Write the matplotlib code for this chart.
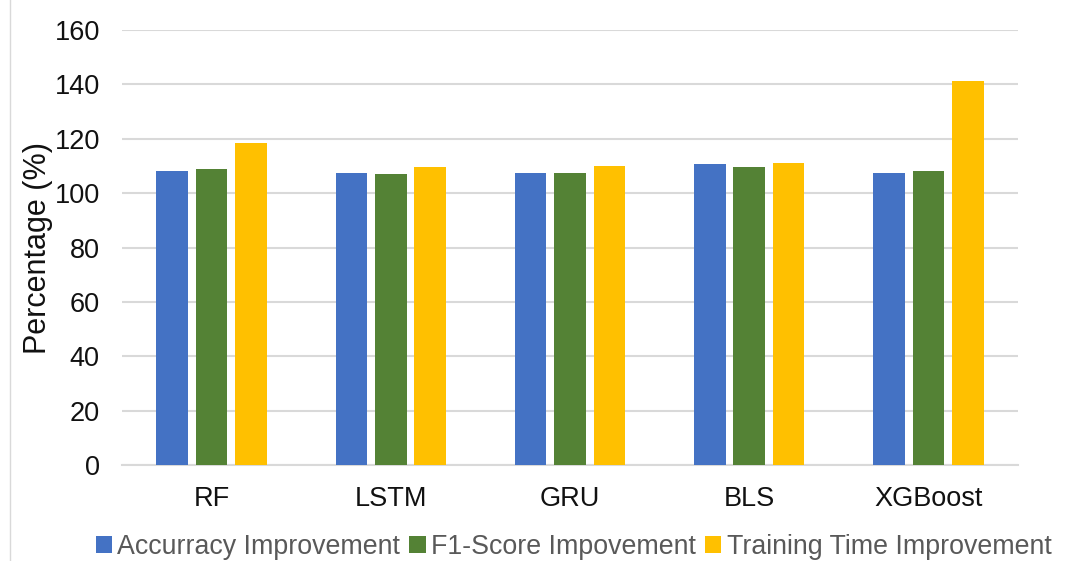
import matplotlib
matplotlib.use("Agg")
import matplotlib.pyplot as plt
from matplotlib.lines import Line2D
import numpy as np

plt.rcParams['font.family'] = ['Liberation Sans', 'DejaVu Sans']

models = ["RF", "LSTM", "GRU", "BLS", "XGBoost"]
accuracy_improvement = [108.0, 107.5, 107.5, 110.7, 107.5]
f1_improvement = [109.0, 107.0, 107.5, 109.5, 108.0]
training_time_improvement = [118.5, 109.5, 110.0, 111.1, 141.2]
series_labels = ["Accurracy Improvement", "F1-Score Impovement", "Training Time Improvement"]
y_ticks = [0, 20, 40, 60, 80, 100, 120, 140, 160]

colors = ["#4472C4", "#548235", "#FFC000"]

fig = plt.figure(figsize=(10.72, 5.61), dpi=100)
ax = fig.add_axes([122 / 1072, 96 / 561, 896 / 1072, 435 / 561])

x = np.arange(len(models))
width = 0.176
step = 0.22
for i, (vals, lab, col) in enumerate(zip(
        [accuracy_improvement, f1_improvement, training_time_improvement],
        series_labels, colors)):
    ax.bar(x + (i - 1) * step, vals, width=width, color=col, label=lab, zorder=3)

ax.set_xlim(-0.5, len(models) - 0.5)
ax.set_ylim(0, 160)
ax.set_yticks(y_ticks)
ax.set_xticks(x)
ax.set_xticklabels(models)

ax.grid(axis='y', color='#d9d9d9', linewidth=1.5, zorder=0)
for side in ['top', 'right', 'left']:
    ax.spines[side].set_visible(False)
ax.spines['bottom'].set_color('#d9d9d9')
ax.spines['bottom'].set_linewidth(1.5)
ax.tick_params(axis='both', length=0, labelsize=19.5, labelcolor='#111111')
ax.tick_params(axis='y', pad=16)
ax.tick_params(axis='x', pad=15)

ax.set_ylabel("Percentage (%)", fontsize=22, color='#111111', labelpad=1)

handles, labels = ax.get_legend_handles_labels()
leg = fig.legend(handles, labels, loc='center', bbox_to_anchor=(0.535, 0.025),
                 ncol=3, frameon=False, fontsize=19.3, handlelength=0.6,
                 handleheight=0.6, handletextpad=0.2, columnspacing=0.35,
                 borderaxespad=0)
for t in leg.get_texts():
    t.set_color('#595959')

# thin frame edge on the left of the chart area
fig.add_artist(Line2D([10 / 1072, 10 / 1072], [0, 1], color='#d9d9d9',
                      linewidth=1, transform=fig.transFigure))

fig.savefig("out.png", dpi=100, facecolor='white')
